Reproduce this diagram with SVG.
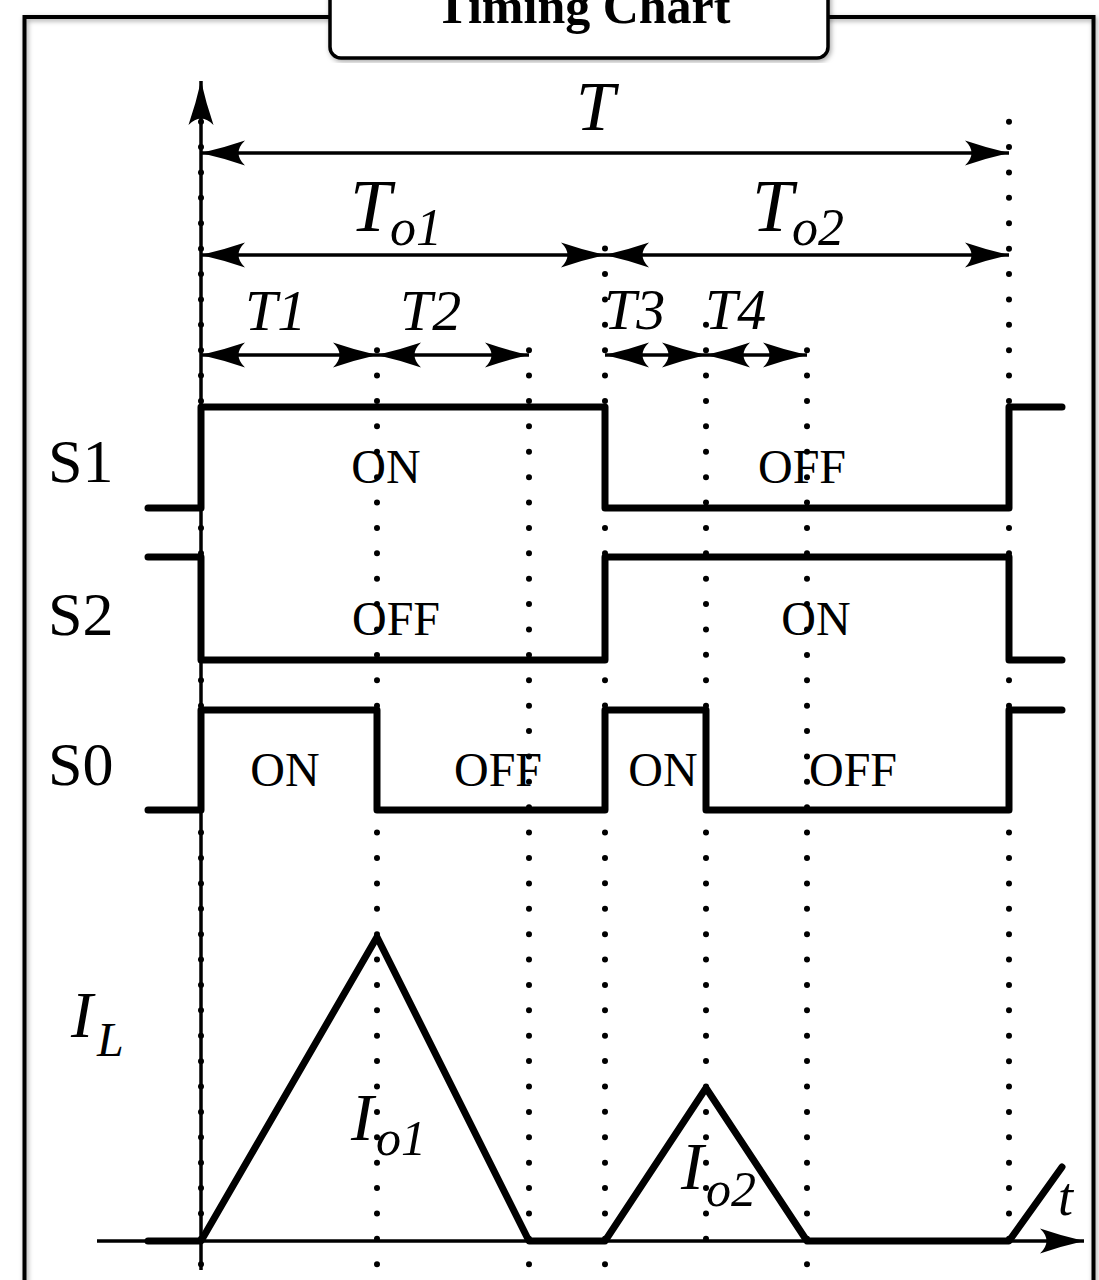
<svg xmlns="http://www.w3.org/2000/svg" width="1099" height="1280" viewBox="0 0 1099 1280">
<defs>
  <marker id="ah" viewBox="-46 -14 47 28" refX="0" refY="0" markerWidth="47" markerHeight="28" markerUnits="userSpaceOnUse" orient="auto-start-reverse">
    <path d="M0,0 Q-22,-5 -44,-12.5 Q-31,0 -44,12.5 Q-22,5 0,0 Z" fill="#000"/>
  </marker>
  <filter id="sh" x="-5%" y="-5%" width="110%" height="110%">
    <feDropShadow dx="1.5" dy="2" stdDeviation="2.5" flood-color="#000" flood-opacity="0.35"/>
  </filter>
  <style>
    .frame{fill:none;stroke:#000;stroke-width:4}
    .title-box{fill:#fff;stroke:#000;stroke-width:3.5}
    .title{font-family:"Liberation Serif",serif;font-weight:bold;font-size:50px;fill:#000}
    .dot{fill:none;stroke:#000;stroke-width:6;stroke-linecap:round;stroke-dasharray:0 25.39}
    .axis{fill:none;stroke:#000;stroke-width:3.5}
    .dim{fill:none;stroke:#000;stroke-width:3.5}
    .wave{fill:none;stroke:#000;stroke-width:7;stroke-linecap:round;stroke-linejoin:round}
    .it{font-family:"Liberation Serif",serif;font-style:italic;fill:#000}
    .rm{font-family:"Liberation Serif",serif;fill:#000}
    .sig{font-size:62px}
    .st{font-size:48px}
  </style>
</defs>
<rect width="1099" height="1280" fill="#fff"/>

<g id="frame" filter="url(#sh)">
  <rect class="frame" x="24.5" y="17" width="1069" height="1275"/>
</g>
<g id="title" filter="url(#sh)">
  <rect class="title-box" x="330" y="-40" width="498" height="98" rx="11"/>
  <text class="title" x="583" y="23" text-anchor="middle">Timing Chart</text>
</g>

<g id="dotted-guides">
  <line class="dot" x1="201" y1="121.7" x2="201" y2="1264.8"/>
  <line class="dot" x1="377" y1="350.2" x2="377" y2="1264.8"/>
  <line class="dot" x1="529" y1="350.2" x2="529" y2="1264.8"/>
  <line class="dot" x1="605" y1="248.6" x2="605" y2="1264.8"/>
  <line class="dot" x1="706" y1="324.8" x2="706" y2="1239.4"/>
  <line class="dot" x1="807" y1="350.2" x2="807" y2="1264.8"/>
  <line class="dot" x1="1009" y1="121.7" x2="1009" y2="1239.4"/>
</g>

<g id="connectors">
  <line class="axis" x1="201" y1="1270" x2="201" y2="81" marker-end="url(#ah)"/>
  <line class="axis" x1="97" y1="1241" x2="1084" y2="1241" marker-end="url(#ah)"/>
  <line class="dim" x1="201" y1="153" x2="1009" y2="153" marker-start="url(#ah)" marker-end="url(#ah)"/>
  <line class="dim" x1="201" y1="255" x2="605" y2="255" marker-start="url(#ah)" marker-end="url(#ah)"/>
  <line class="dim" x1="605" y1="255" x2="1009" y2="255" marker-start="url(#ah)" marker-end="url(#ah)"/>
  <line class="dim" x1="201" y1="355" x2="377" y2="355" marker-start="url(#ah)" marker-end="url(#ah)"/>
  <line class="dim" x1="377" y1="355" x2="529" y2="355" marker-start="url(#ah)" marker-end="url(#ah)"/>
  <line class="dim" x1="605" y1="355" x2="706" y2="355" marker-start="url(#ah)" marker-end="url(#ah)"/>
  <line class="dim" x1="706" y1="355" x2="807" y2="355" marker-start="url(#ah)" marker-end="url(#ah)"/>
</g>

<g id="dimension-labels">
  <text class="it" x="576" y="130" font-size="70">T</text>
  <text class="it" font-size="74"><tspan x="350" y="231">T</tspan><tspan x="390" y="245" font-size="52">o1</tspan></text>
  <text class="it" font-size="74"><tspan x="752" y="231">T</tspan><tspan x="792" y="245" font-size="52">o2</tspan></text>
  <text class="it" x="245" y="330" font-size="58">T1</text>
  <text class="it" x="400" y="330" font-size="58">T2</text>
  <text class="it" x="604" y="329" font-size="58">T3</text>
  <text class="it" x="705" y="329" font-size="58">T4</text>
</g>

<g id="S1">
  <text class="rm sig" x="48" y="482">S1</text>
  <polyline class="wave" points="148,508 201,508 201,407 605,407 605,508 1009,508 1009,407 1062,407"/>
  <text class="rm st" x="386" y="483" text-anchor="middle">ON</text>
  <text class="rm st" x="802" y="483" text-anchor="middle">OFF</text>
</g>
<g id="S2">
  <text class="rm sig" x="48" y="635">S2</text>
  <polyline class="wave" points="148,557 201,557 201,660 605,660 605,557 1009,557 1009,660 1062,660"/>
  <text class="rm st" x="396" y="635" text-anchor="middle">OFF</text>
  <text class="rm st" x="816" y="635" text-anchor="middle">ON</text>
</g>
<g id="S0">
  <text class="rm sig" x="48" y="785">S0</text>
  <polyline class="wave" points="148,810 201,810 201,710 377,710 377,810 605,810 605,710 706,710 706,810 1009,810 1009,710 1062,710"/>
  <text class="rm st" x="285" y="786" text-anchor="middle">ON</text>
  <text class="rm st" x="498" y="786" text-anchor="middle">OFF</text>
  <text class="rm st" x="663" y="786" text-anchor="middle">ON</text>
  <text class="rm st" x="853" y="786" text-anchor="middle">OFF</text>
</g>
<g id="IL">
  <text class="it" font-size="66"><tspan x="71" y="1037">I</tspan><tspan x="97" y="1056" font-size="48">L</tspan></text>
  <polyline class="wave" points="148,1241 201,1241 377,937 529,1241 605,1241 706,1088 807,1241 1009,1241 1062,1167"/>
  <text class="it" font-size="68"><tspan x="351" y="1140">I</tspan><tspan x="376" y="1155" font-size="50">o1</tspan></text>
  <text class="it" font-size="68"><tspan x="681" y="1189">I</tspan><tspan x="706" y="1206" font-size="50">o2</tspan></text>
  <text class="it" x="1058" y="1215" font-size="54">t</text>
</g>
</svg>
